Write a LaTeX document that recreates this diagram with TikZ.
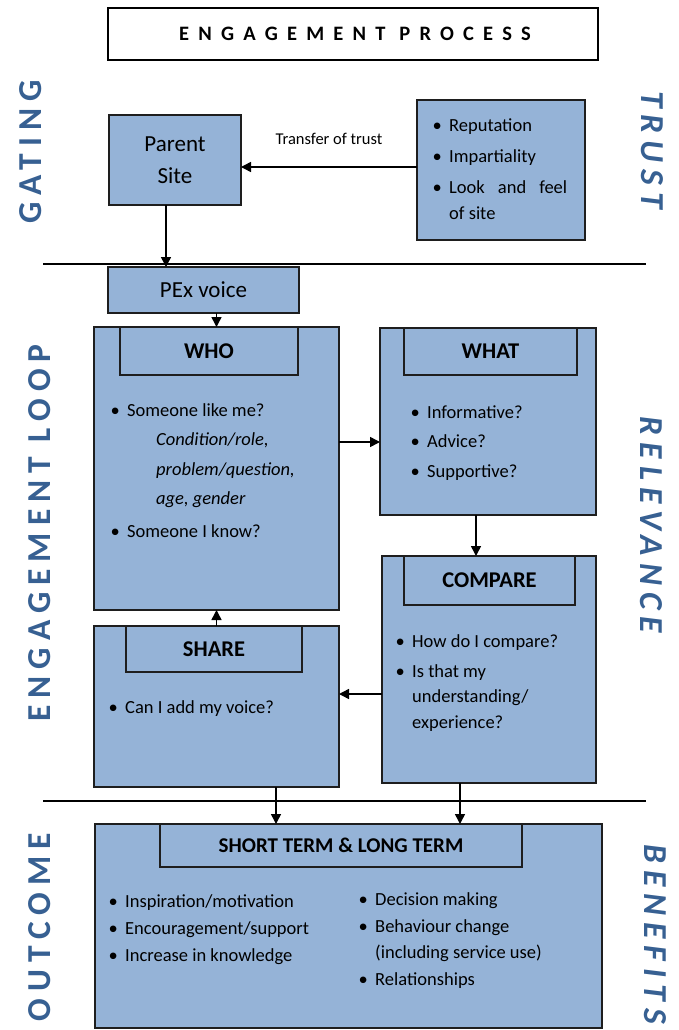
\documentclass[tikz,border=0pt]{standalone}
\usepackage{fontspec}
\setmainfont{Carlito}
\newfontfamily\sidefont[LetterSpace=21]{Carlito}
\newfontfamily\titlefont[LetterSpace=45]{Carlito}
\usepackage{tikz}
\usetikzlibrary{arrows.meta,positioning,calc}
\definecolor{boxblue}{HTML}{95B3D7}
\definecolor{labelblue}{HTML}{376092}
\definecolor{edge}{HTML}{1E1E1E}
\newcommand{\blt}{\makebox[16.5pt][l]{\textbullet}}
\tikzset{
  box/.style={draw=edge,line width=1.5pt,fill=boxblue,anchor=north west,inner sep=0pt,outer sep=0pt},
  headbox/.style={box,font=\fontsize{22.5}{27}\selectfont\bfseries},
  bodytext/.style={anchor=base west,inner sep=0pt,align=left,font=\fontsize{18.5}{29.5}\selectfont},
  flow/.style={line width=1.5pt,-{Triangle[length=10pt,width=10pt]}},
  divider/.style={line width=1.5pt},
  sidelabel/.style={text=labelblue,inner sep=0pt,font=\fontsize{33.5}{40}\sidefont\bfseries},
  sideitalic/.style={sidelabel,font=\fontsize{33.5}{40}\sidefont\bfseries\itshape},
}

\begin{document}
\begin{tikzpicture}[x=1pt,y=-1pt]
\useasboundingbox (0,0) rectangle (678,1030);
% heading
\node[box,fill=white,draw=black,line width=2pt,minimum width=490,minimum height=52,font=\fontsize{20.5}{24}\titlefont\bfseries] (title) at (108,8) {\hspace*{4pt}ENGAGEMENT PROCESS};
% section rules
\draw[divider] (43,264) coordinate (rulea) -- (646,264);
\draw[divider] (43,801) coordinate (ruleb) -- (646,801);
% gating (lists are placed by the baseline of their last line)
\node[box,minimum width=132,minimum height=90,align=center,font=\fontsize{23}{32.5}\selectfont] (parent) at (109,115) {Parent\\Site};
\node[box,minimum width=168,minimum height=140] (trust) at (417,100) {};
\node[bodytext,font=\fontsize{18.5}{26}\selectfont] (trustlist) at (432.5,219) {\blt Reputation\\[5pt] \blt Impartiality\\[5pt] \blt\makebox[118pt][s]{Look and feel}\\ \hspace*{16.5pt}of site};
\coordinate (trustout) at ([yshift=3pt]trust.west);
\draw[flow] (trustout) -- node[midway,anchor=base,inner sep=0pt,yshift=22pt,font=\fontsize{16.5}{20}\selectfont] (transfer) {Transfer of trust} (trustout -| parent.east);
\node[box,minimum width=191,minimum height=46,font=\fontsize{23}{27}\selectfont] (pex) at (108,267) {\raisebox{-3pt}{PEx voice}};
\coordinate (parentout) at ([xshift=-9pt]parent.south);
\draw[flow] (parentout) -- (parentout |- pex.north);
% engagement loop
\node[box,minimum width=245,minimum height=283] (who) at (94,327) {};
\node[headbox,minimum width=178,minimum height=48] (whohead) at (120,327) {WHO};
\node[bodytext] (wholist) at (110.5,537) {\blt Someone like me?\\ \hspace*{45.5pt}\textit{Condition/role,}\\ \hspace*{45.5pt}\textit{problem/question,}\\ \hspace*{45.5pt}\textit{age, gender}\\[3pt] \blt Someone I know?};
\node[box,minimum width=216,minimum height=187] (what) at (380,328) {};
\node[headbox,minimum width=173,minimum height=47] (whathead) at (404,328) {WHAT};
\node[bodytext] (whatlist) at (410.5,477) {\blt Informative?\\ \blt Advice?\\ \blt Supportive?};
\node[box,minimum width=214,minimum height=227] (compare) at (382,556) {};
\node[headbox,minimum width=171,minimum height=49] (comparehead) at (404,556) {COMPARE};
\node[bodytext,font=\fontsize{18.5}{25.5}\selectfont] (comparelist) at (395.5,728) {\blt How do I compare?\\[4.5pt] \blt Is that my\\ \hspace*{16.5pt}understanding/\\ \hspace*{16.5pt}experience?};
\node[box,minimum width=245,minimum height=161] (share) at (94,626) {};
\node[headbox,minimum width=176,minimum height=46] (sharehead) at (126,626) {SHARE};
\node[bodytext] (sharelist) at (108.5,713) {\blt Can I add my voice?};
\draw[flow] (who.north |- pex.south) -- (who.north);
\coordinate (whoout) at ([yshift=26.5pt]who.east);
\draw[flow] (whoout) -- (whoout -| what.west);
\coordinate (whatout) at ([xshift=-12pt]what.south);
\draw[flow] (whatout) -- (whatout |- compare.north);
\coordinate (compareout) at ([yshift=-24.5pt]compare.west);
\draw[flow] (compareout) -- (compareout -| share.east);
\draw[flow] (share.north) -- (who.south);
% outcome
\node[box,minimum width=507,minimum height=204] (outcome) at (95,824) {};
\node[headbox,minimum width=362,minimum height=43,font=\fontsize{21}{25}\selectfont\bfseries] (outcomehead) at (160,824) {SHORT TERM \& LONG TERM};
\node[bodytext,font=\fontsize{18.5}{27}\selectfont] (shortlist) at (108.5,961) {\blt Inspiration/motivation\\ \blt Encouragement/support\\ \blt Increase in knowledge};
\node[bodytext,font=\fontsize{18.5}{26.5}\selectfont] (longlist) at (358.5,985) {\blt Decision making\\ \blt Behaviour change\\ \hspace*{16.5pt}(including service use)\\ \blt Relationships};
\coordinate (shareout) at ([xshift=59.5pt]share.south);
\draw[flow] (shareout) -- (shareout |- outcome.north);
\coordinate (comparedown) at ([xshift=-29pt]compare.south);
\draw[flow] (comparedown) -- (comparedown |- outcome.north);
% side labels
\node[sidelabel,rotate=90] (gating) at (31,152) {GATING};
\node[sidelabel,rotate=90] (loop) at (40,533) {ENGAGEMENT LOOP};
\node[sidelabel,rotate=90] (outcomeside) at (40,927) {OUTCOME};
\node[sideitalic,rotate=-90] (trustside) at (652,150) {TRUST};
\node[sideitalic,rotate=-90] (relevance) at (651,525) {RELEVANCE};
\node[sideitalic,rotate=-90] (benefits) at (655,934) {BENEFITS};
\end{tikzpicture}
\end{document}
